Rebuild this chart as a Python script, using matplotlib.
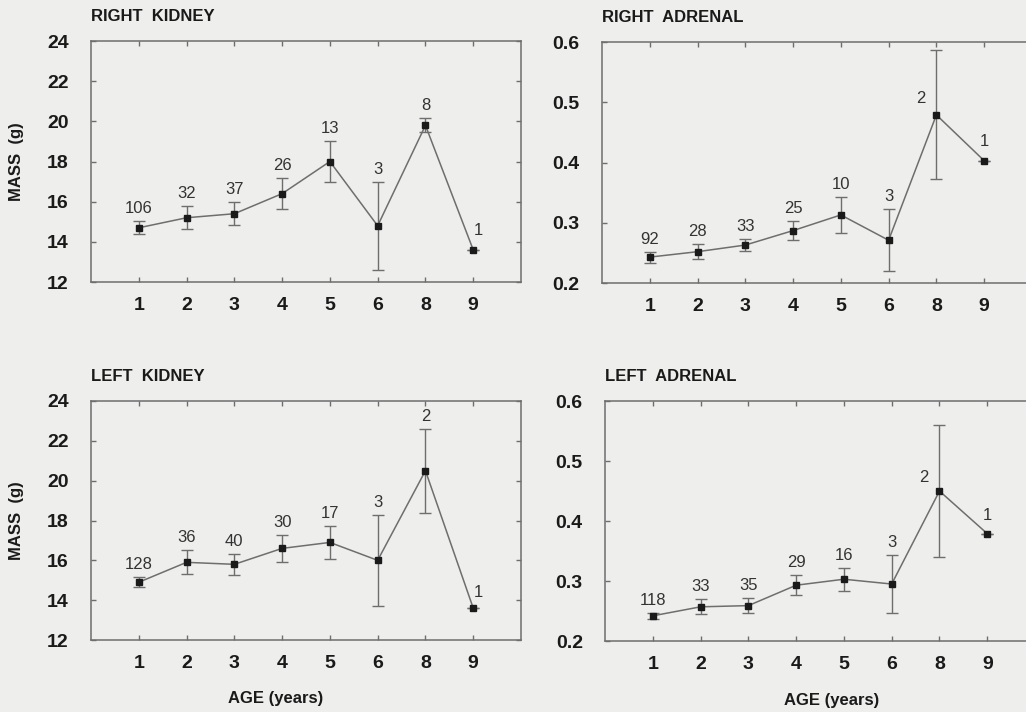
import matplotlib
matplotlib.use("Agg")
import matplotlib.pyplot as plt

plt.rcParams['font.family'] = ['Liberation Sans', 'DejaVu Sans']

AGE_LABELS = ["1", "2", "3", "4", "5", "6", "8", "9"]

right_kidney_mean = [14.7, 15.2, 15.4, 16.4, 18.0, 14.8, 19.8, 13.6]
right_kidney_err = [0.33, 0.57, 0.56, 0.77, 1.0, 2.2, 0.35, 0.0]
right_kidney_n = [106, 32, 37, 26, 13, 3, 8, 1]

right_adrenal_mean = [0.243, 0.252, 0.263, 0.287, 0.313, 0.271, 0.479, 0.403]
right_adrenal_err = [0.009, 0.012, 0.0095, 0.0155, 0.030, 0.0515, 0.107, 0.0]
right_adrenal_n = [92, 28, 33, 25, 10, 3, 2, 1]

left_kidney_mean = [14.9, 15.9, 15.8, 16.6, 16.9, 16.0, 20.5, 13.6]
left_kidney_err = [0.25, 0.6, 0.53, 0.67, 0.81, 2.28, 2.1, 0.0]
left_kidney_n = [128, 36, 40, 30, 17, 3, 2, 1]

left_adrenal_mean = [0.242, 0.257, 0.259, 0.293, 0.303, 0.295, 0.450, 0.379]
left_adrenal_err = [0.0053, 0.0125, 0.0125, 0.0165, 0.019, 0.048, 0.110, 0.0]
left_adrenal_n = [118, 33, 35, 29, 16, 3, 2, 1]

BG = "#eeeeec"
LINE = "#6e6e6e"

fig = plt.figure(figsize=(10.26, 7.12), dpi=100, facecolor=BG)


def panel(rect, title, mean, err, n, ylim, yticks, yfmt, ylabel, xlabel,
          xlabel_x, nudges):
    ax = fig.add_axes(rect)
    ax.set_facecolor(BG)
    x = list(range(1, len(mean) + 1))
    ax.plot(x, mean, color=LINE, lw=1.1, zorder=2)
    ax.errorbar(x, mean, yerr=err, fmt="none", ecolor=LINE, elinewidth=1.0,
                capsize=4, capthick=1.0, zorder=2)
    ax.plot(x, mean, ls="none", marker="s", ms=5, color="#1a1a1a", zorder=3)
    for i, (xi, m, e, k) in enumerate(zip(x, mean, err, n)):
        # default: label sits just above the error bar cap
        dx, dy, at_mean = nudges.get(i, (0, 9, False))
        y0 = m if at_mean else m + e
        ax.annotate(str(k), (xi, y0), xytext=(dx, dy),
                    textcoords="offset points", ha="center", va="center",
                    fontsize=12, color="#333333")
    ax.set_xlim(0, 9)
    ax.set_ylim(*ylim)
    ax.set_xticks(x)
    ax.set_xticklabels(AGE_LABELS)
    ax.set_yticks(yticks)
    ax.set_yticklabels([yfmt.format(v) for v in yticks])
    for s in ax.spines.values():
        s.set_color(LINE)
        s.set_linewidth(1.1)
    ax.tick_params(axis="both", which="both", direction="in", length=3.5,
                   width=1.0, color=LINE, top=True, right=True,
                   labelsize=14, labelcolor="#1a1a1a")
    ax.tick_params(axis="x", pad=11)
    ax.tick_params(axis="y", pad=16)
    for lab in ax.get_xticklabels() + ax.get_yticklabels():
        lab.set_fontweight("bold")
    ax.text(0.0, 1.07, title, transform=ax.transAxes, fontsize=12,
            fontweight="bold", color="#1a1a1a", ha="left", va="bottom")
    if ylabel:
        ax.set_ylabel(ylabel, fontsize=12, fontweight="bold", color="#1a1a1a")
        ax.yaxis.set_label_coords(-0.156, 0.5)
    if xlabel:
        ax.set_xlabel(xlabel, fontsize=12, fontweight="bold", color="#1a1a1a")
        ax.xaxis.set_label_coords(xlabel_x, -0.215)
    return ax


kidney_ticks = [12, 14, 16, 18, 20, 22, 24]
adrenal_ticks = [0.2, 0.3, 0.4, 0.5, 0.6]

panel([0.0887, 0.6039, 0.4191, 0.3385], "RIGHT  KIDNEY",
      right_kidney_mean, right_kidney_err, right_kidney_n,
      (12, 24), kidney_ticks, "{:d}", "MASS  (g)", None, 0,
      {7: (4, 14, False)})
panel([0.5867, 0.6025, 0.4191, 0.3385], "RIGHT  ADRENAL",
      right_adrenal_mean, right_adrenal_err, right_adrenal_n,
      (0.2, 0.6), adrenal_ticks, "{:.1f}", None, None, 0,
      {6: (-11.5, 11.5, True), 7: (0, 14, False)})
panel([0.0887, 0.1011, 0.4191, 0.3357], "LEFT  KIDNEY",
      left_kidney_mean, left_kidney_err, left_kidney_n,
      (12, 24), kidney_ticks, "{:d}", "MASS  (g)", "AGE (years)", 0.43,
      {7: (4, 11, False)})
panel([0.5897, 0.0997, 0.4191, 0.3370], "LEFT  ADRENAL",
      left_adrenal_mean, left_adrenal_err, left_adrenal_n,
      (0.2, 0.6), adrenal_ticks, "{:.1f}", None, "AGE (years)", 0.528,
      {6: (-11.5, 9.5, True), 7: (0, 13, False)})

fig.savefig("out.png", dpi=100, facecolor=BG)
